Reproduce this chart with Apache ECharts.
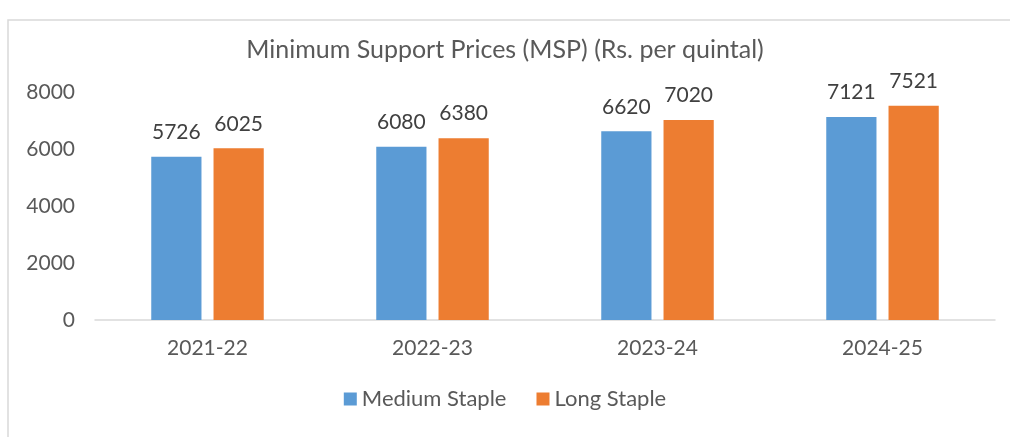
<!DOCTYPE html>
<html>
<head>
<meta charset="utf-8">
<script src="https://cdn.jsdelivr.net/npm/echarts@6/dist/echarts.min.js"></script>
<style>
  html, body { margin: 0; padding: 0; background: #fff; }
  #main { width: 1010px; height: 437px; }
</style>
</head>
<body>
<div id="main"></div>
<script>
const years = ["2021-22", "2022-23", "2023-24", "2024-25"];
const mediumStaple = [5726, 6080, 6620, 7121];
const longStaple = [6025, 6380, 7020, 7521];
const yTicks = [0, 2000, 4000, 6000, 8000];

const font = "Lato, 'Open Sans', sans-serif";
const chart = echarts.init(document.getElementById("main"));

chart.setOption({
  animation: false,
  color: ["#5b9bd5", "#ed7d31"],
  title: {
    text: "Minimum Support Prices (MSP) (Rs. per quintal)",
    left: "center",
    top: 32,
    textStyle: { fontFamily: font, fontSize: 25, fontWeight: "normal", color: "#595959" },
  },
  legend: {
    bottom: 22,
    left: "center",
    itemWidth: 13,
    itemHeight: 13,
    itemGap: 30,
    icon: "rect",
    textStyle: { fontFamily: font, fontSize: 22, color: "#595959" },
  },
  grid: { left: 95, right: 15, top: 92, bottom: 117 },
  xAxis: {
    type: "category",
    data: years,
    axisTick: { show: false },
    axisLine: { lineStyle: { color: "#d9d9d9", width: 1.5 } },
    axisLabel: { fontFamily: font, fontSize: 21, color: "#595959", margin: 18 },
  },
  yAxis: {
    type: "value",
    min: yTicks[0],
    max: yTicks[yTicks.length - 1],
    interval: 2000,
    splitLine: { show: false },
    axisLabel: { fontFamily: font, fontSize: 21, color: "#595959", margin: 20, formatter: (v) => String(v) },
  },
  series: [
    {
      name: "Medium Staple",
      type: "bar",
      data: mediumStaple,
      barGap: "24%",
      barCategoryGap: "50%",
      label: { show: true, position: "top", distance: 14, fontFamily: font, fontSize: 21, color: "#404040" },
    },
    {
      name: "Long Staple",
      type: "bar",
      data: longStaple,
      label: { show: true, position: "top", distance: 14, fontFamily: font, fontSize: 21, color: "#404040" },
    },
  ],
  graphic: [
    {
      type: "rect",
      shape: { x: 8, y: 20, width: 1010, height: 430 },
      style: { fill: "none", stroke: "#d9d9d9", lineWidth: 1.5 },
    },
  ],
});
</script>
</body>
</html>
